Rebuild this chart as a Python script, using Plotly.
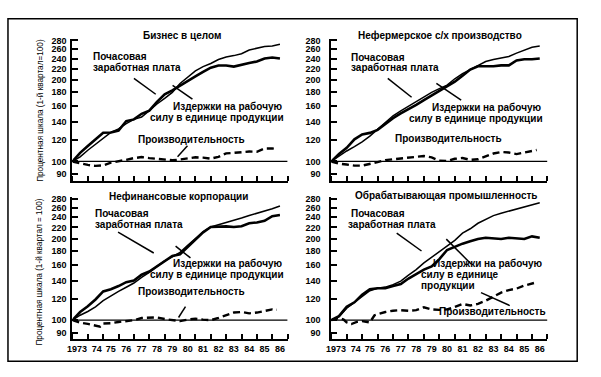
import math
import plotly.graph_objects as go

W, H = 601, 377

# ---------------- data ----------------
half_years = [1973 + 0.5 * i for i in range(28)]          # 1973.0 .. 1986.5
prod_years = [1973 + 0.5 * i for i in range(27)] + [1986.3]
prod_years_corp = [1973, 1973.5, 1974, 1974.5, 1974.8] + [1975 + 0.5 * i for i in range(23)] + [1986.3]
prod_years_manuf = [1973, 1973.5, 1973.8, 1974, 1974.3, 1974.7, 1975, 1975.5, 1975.8] + \
                   [1976 + 0.5 * i for i in range(21)] + [1986.3]

baseline = 100

panel_titles = ["Бизнес в целом", "Нефермерское с/х производство",
                "Нефинансовые корпорации", "Обрабатывающая промышленность"]

wage_business = [100, 104, 110, 116, 122, 128, 132, 138, 143, 146, 154, 163, 171, 180,
                 194, 204, 216, 224, 230, 238, 243, 246, 250, 258, 262, 266, 267, 271]
ulc_business = [100, 107.6, 114, 121, 127.6, 128, 130, 141, 143, 150, 154, 166, 177, 183,
                190, 197, 206, 214, 222, 226, 226, 224, 228, 231, 234, 240, 242, 240]
prod_business = [100, 98.3, 97.1, 96.3, 96.7, 99.0, 100.5, 101.4, 102.9, 103.8, 102.9, 102.4,
                 101.4, 101, 101.7, 102.9, 103.6, 103.3, 102.4, 104, 107.1, 107.6, 108.3,
                 108.8, 108.6, 111.7, 111.7, 111.2]

wage_nonfarm = [100, 104.9, 109.3, 113.5, 118.1, 124, 131.5, 138.3, 147.5, 153.8, 160, 166.9,
                173, 180, 185.7, 191.4, 202, 211, 218.5, 226.4, 234, 238, 240.9, 244.3, 251.3,
                258, 264, 267]
ulc_nonfarm = [100, 106.5, 112.3, 120.7, 125.8, 127.5, 130.8, 137.6, 144.6, 150.4, 155.8, 161.7,
               168.6, 175.4, 181.7, 188.9, 197, 207.4, 218.5, 224.8, 224.8, 224.8, 226.4, 226.4,
               236, 238.4, 238.4, 240]
prod_nonfarm = [100, 98.1, 97.4, 96.5, 96.5, 97.7, 99.4, 101.2, 101.9, 102.3, 103.5, 104.2,
                104.7, 103.5, 100.7, 100.5, 102.3, 103, 101.4, 101.9, 104.2, 107, 108.4, 107.9,
                106.5, 107.7, 108.8, 110.2]

wage_corp = [100, 104.3, 107.7, 112, 118, 123.2, 127.7, 132.3, 137.2, 144, 150, 158, 165.7,
             171.4, 178, 189, 201, 212, 221, 225, 229, 234.4, 238.4, 243.6, 248, 252.9, 257.9, 264]
ulc_corp = [100, 107.2, 112.5, 119.3, 127.7, 130.2, 133.7, 138.2, 140, 147.2, 151.2, 158, 165.7,
            172.6, 175, 186, 199, 211, 220.8, 222, 222, 220.8, 222.4, 228, 229.6, 232.8, 242.1, 244.6]
prod_corp = [100, 98, 96.9, 95.6, 94.7, 97.2, 97.5, 98.5, 99.4, 100, 101.9, 101.9, 102.4, 101,
             100, 99.2, 100.5, 101.2, 100.5, 100, 101.9, 104.1, 106.7, 107.2, 106, 106.7, 108.4,
             109.6, 109.2]

wage_manuf = [100, 102.9, 110.8, 116.4, 122.4, 128.5, 131.2, 132.5, 135.3, 139.3, 146.7, 153.8,
              162.7, 170.8, 178.9, 188.3, 197.2, 209.6, 217.6, 228, 236, 243.3, 248.3, 252.5,
              257.5, 262.6, 266.9, 271.3]
ulc_manuf = [100, 103.6, 112, 116.4, 124.1, 130.2, 131.2, 131.2, 133.6, 136, 142.5, 148.3, 153.8,
             158, 168.1, 181.7, 187.2, 191.7, 195.6, 199.4, 201.6, 200.8, 199.4, 201.6, 200,
             199.4, 204, 201.6]
prod_manuf = [100, 101.9, 100.5, 98.1, 96.8, 98.7, 99.2, 98.1, 104.3, 105.3, 107.2, 108.4,
              108.9, 108.4, 108.9, 111.6, 109.6, 109.2, 109.6, 112, 114.9, 113.3, 114.9, 118,
              122.4, 126.4, 129.2, 130.8, 134.2, 136.6, 138]

y_tickvals = [90, 100, 120, 140, 160, 180, 200, 220, 240, 260, 280]
x_tick_years = [1973 + i for i in range(15)]
x_label_pos = [1973.3, 1974.58] + [1975.5 + i for i in range(12)]
x_labels = ["1973"] + [str(74 + i) for i in range(13)]

panels = [
    (wage_business, ulc_business, prod_years, prod_business),
    (wage_nonfarm, ulc_nonfarm, prod_years, prod_nonfarm),
    (wage_corp, ulc_corp, prod_years_corp, prod_corp),
    (wage_manuf, ulc_manuf, prod_years_manuf, prod_manuf),
]

def px(x):
    return x / W

def py(y):
    return 1 - y / H

FONT = "Liberation Sans"
x_domains = [[px(68), px(285)], [px(329), px(547)]]
y_domains = [[py(179), py(36)], [py(339), py(196)]]

fig = go.Figure()

for i, (wage, ulc, pyrs, prod) in enumerate(panels):
    n = i + 1
    xa = "x" if n == 1 else f"x{n}"
    ya = "y" if n == 1 else f"y{n}"
    fig.add_trace(go.Scatter(x=[1973, 1987], y=[baseline, baseline], mode="lines",
                             line=dict(color="black", width=1.3), xaxis=xa, yaxis=ya,
                             showlegend=False, hoverinfo="skip"))
    fig.add_trace(go.Scatter(x=pyrs, y=prod, mode="lines",
                             line=dict(color="black", width=2.4, dash="7px,4px"),
                             xaxis=xa, yaxis=ya, showlegend=False))
    fig.add_trace(go.Scatter(x=half_years, y=ulc, mode="lines",
                             line=dict(color="black", width=2.6), xaxis=xa, yaxis=ya,
                             showlegend=False))
    fig.add_trace(go.Scatter(x=half_years, y=wage, mode="lines",
                             line=dict(color="black", width=1.5), xaxis=xa, yaxis=ya,
                             showlegend=False))

    col = i % 2
    row = i // 2
    xkey = "xaxis" if n == 1 else f"xaxis{n}"
    ykey = "yaxis" if n == 1 else f"yaxis{n}"
    fig.layout[xkey] = dict(
        domain=x_domains[col], range=[1973, 1987], anchor=ya,
        showline=True, linecolor="black", linewidth=2, showgrid=False, zeroline=False,
        tickmode="array", tickvals=x_label_pos, ticktext=x_labels, ticks="",
        showticklabels=(row == 1), tickangle=0,
        tickfont=dict(family=FONT, size=9, color="black", weight="bold"),
        minor=dict(tickmode="array", tickvals=x_tick_years, ticks="inside", ticklen=5,
                   tickwidth=1.5, tickcolor="black", showgrid=False),
    )
    fig.layout[ykey] = dict(
        domain=y_domains[row], type="log",
        range=[math.log10(85), math.log10(284)], anchor=xa,
        showline=True, linecolor="black", linewidth=2, showgrid=False, zeroline=False,
        tickmode="array", tickvals=y_tickvals, ticktext=[str(v) for v in y_tickvals],
        ticks="inside", ticklen=6, tickwidth=1.5, tickcolor="black",
        tickfont=dict(family=FONT, size=9, color="black", weight="bold"),
        ticklabelstandoff=(2 if col == 0 else 7),
    )

annotations = []

def text(x, y, s, anchor="left", size=10):
    annotations.append(dict(x=px(x), y=py(y), xref="paper", yref="paper", text=s,
                            showarrow=False, xanchor=anchor, yanchor="middle", borderpad=0,
                            font=dict(family=FONT, size=size, color="black", weight="bold")))

text(178, 33, panel_titles[0], "center")
text(439, 33, panel_titles[1], "center")
text(175, 195, panel_titles[2], "center")
text(445, 194, panel_titles[3], "center")

text(88, 54, "Почасовая")
text(88, 65, "заработная плата")
text(281, 104.5, "Издержки на рабочую", "right")
text(282, 115.5, "силу в единице продукции", "right")
text(133, 138, "Производительность")
text(348, 54.5, "Почасовая")
text(348, 65.5, "заработная плата")
text(543, 105, "Издержки на рабочую", "right")
text(544, 116, "силу в единице продукции", "right")
text(392, 137, "Производительность")
text(90, 212.5, "Почасовая")
text(90, 223.5, "заработная плата")
text(281, 262.5, "Издержки на рабочую", "right")
text(282, 273.5, "силу в единице продукции", "right")
text(133, 291, "Производительность")
text(348, 212.5, "Почасовая")
text(345, 223.5, "заработная плата")
text(431, 262.5, "Издержки на рабочую")
text(418, 273.5, "силу в единице")
text(418, 284.5, "продукции")
text(437, 311, "Производительность")

for yc, s in [(108, "Процентная шкала (1-й квартал=100)"),
              (271, "Процентная шкала (1-й квартал = 100)")]:
    annotations.append(dict(x=px(35), y=py(yc), xref="paper", yref="paper", text=s,
                            showarrow=False, textangle=-90, xanchor="center", yanchor="middle",
                            font=dict(family=FONT, size=8.2, color="black")))

shapes = [dict(type="rect", xref="paper", yref="paper", x0=px(3), y0=py(16), x1=px(577),
               y1=py(361), line=dict(color="black", width=1.5))]
pointers = [
    ((130, 76), (152, 92)), ((189, 97), (169, 83)), ((184, 144), (174, 155)),
    ((386, 76), (410, 95)), ((460, 98), (435, 81)),
    ((114, 231), (150, 252)), ((187, 257), (172, 245)), ((182, 306), (175, 317)),
    ((395, 232), (420, 250)), ((470, 263), (445, 238)), ((509, 305), (480, 292)),
]
for (x0, y0), (x1, y1) in pointers:
    shapes.append(dict(type="line", xref="paper", yref="paper", x0=px(x0), y0=py(y0),
                       x1=px(x1), y1=py(y1), line=dict(color="black", width=1.5)))

fig.update_layout(
    width=W, height=H, margin=dict(l=0, r=0, t=0, b=0),
    paper_bgcolor="white", plot_bgcolor="white",
    annotations=annotations, shapes=shapes, showlegend=False,
)

fig.write_html("out.html", config={"displayModeBar": False},
               post_script="document.body.style.margin='0';")
